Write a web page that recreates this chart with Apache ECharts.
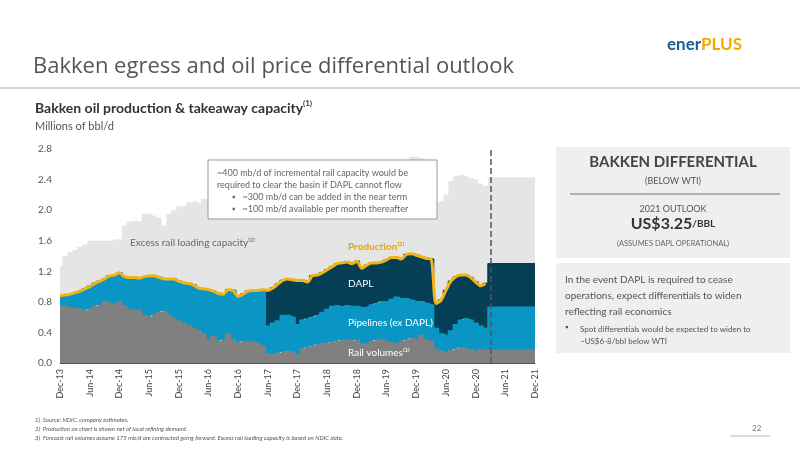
<!DOCTYPE html>
<html><head><meta charset="utf-8">
<script src="https://cdn.jsdelivr.net/npm/echarts@6/dist/echarts.min.js"></script>
<style>html,body{margin:0;background:#fff}#c{width:800px;height:450px}</style>
</head><body><div id="c"></div>
<script>
const monthNames = ['Jan','Feb','Mar','Apr','May','Jun','Jul','Aug','Sep','Oct','Nov','Dec'];
const months = [];
for (let i = 0; i < 97; i++) {
  const m = (11 + i) % 12, y = 13 + Math.floor((11 + i) / 12);
  months.push(monthNames[m] + '-' + y);
}
const lastActual = 86;

// production (historical), millions bbl/d
const production = [
  .88,.89,.90,.92,.94,.97,1.00,1.04,1.07,1.10,1.14,1.15,1.18,
  1.13,1.12,1.12,1.11,1.13,1.14,1.14,1.12,1.10,1.10,1.10,1.07,
  1.05,1.04,1.02,.98,.97,.96,.94,.91,.90,.96,.95,.87,
  .90,.94,.95,.95,.96,.95,.98,1.03,1.08,1.10,1.09,1.08,
  1.08,1.06,1.14,1.15,1.18,1.22,1.26,1.30,1.31,1.32,1.30,1.33,
  1.24,1.28,1.31,1.31,1.32,1.35,1.38,1.38,1.36,1.42,1.43,1.41,
  1.39,1.37,1.36,.78,.82,.95,1.07,1.13,1.15,1.15,1.12,1.06,1.01,1.04
];
const forecastTotal = 1.30;
const rail = [
  .75,.74,.72,.71,.70,.68,.70,.74,.76,.80,.78,.77,.80,
  .75,.70,.68,.69,.62,.60,.62,.66,.68,.62,.58,.55,
  .52,.48,.45,.42,.38,.30,.35,.28,.30,.38,.30,.26,
  .28,.28,.27,.25,.22,.12,.11,.12,.14,.15,.14,.10,
  .18,.20,.22,.24,.25,.26,.27,.28,.30,.30,.28,.30,
  .25,.24,.28,.30,.30,.28,.26,.25,.28,.30,.32,.30,
  .36,.30,.28,.18,.15,.13,.16,.18,.20,.18,.17,.15,.18,.17,
  .17,.17,.17,.17,.17,.17,.17,.17,.17,.17
];
// top of pipelines band (rail + pipelines) from DAPL start (Jun-17)
const daplStart = 42;
const pipeTop = [
  .48,.52,.55,.62,.62,.60,.50,
  .56,.58,.60,.62,.66,.70,.74,.75,.73,.75,.74,.74,
  .72,.73,.76,.78,.80,.80,.83,.86,.84,.84,.82,.80,
  .80,.78,.76,.45,.38,.36,.42,.50,.56,.58,.56,.52,.48,.45,
  .73,.73,.73,.73,.73,.73,.73,.73,.73,.73
];
// top of excess rail loading capacity band
const capacityTop = [
  1.27,1.40,1.45,1.48,1.52,1.55,1.60,1.60,1.60,1.60,1.60,1.62,1.62,
  1.80,1.85,1.86,1.85,1.95,1.96,1.93,1.90,1.80,1.95,2.00,2.05,
  2.05,2.10,2.12,2.10,2.15,2.15,2.20,2.20,2.25,2.25,2.30,2.30,
  2.30,2.32,2.35,2.35,2.36,2.38,2.40,2.40,2.42,2.42,2.44,2.45,
  2.45,2.46,2.48,2.48,2.50,2.50,2.52,2.52,2.54,2.55,2.55,2.56,
  2.56,2.58,2.58,2.60,2.60,2.62,2.62,2.64,2.65,2.66,2.70,2.70,
  2.68,2.66,2.65,2.10,2.12,2.20,2.38,2.45,2.46,2.45,2.42,2.40,2.35,2.32,
  2.43,2.43,2.43,2.43,2.43,2.43,2.43,2.43,2.43,2.43
];

const total = months.map((_, i) => i <= lastActual ? production[i] : forecastTotal);
const pTop = months.map((_, i) => i < daplStart ? total[i] : pipeTop[i - daplStart]);
const pipelines = months.map((_, i) => +(pTop[i] - rail[i]).toFixed(3));
const dapl = months.map((_, i) => +(total[i] - pTop[i]).toFixed(3));
const excess = months.map((_, i) => +(capacityTop[i] - total[i]).toFixed(3));
const prodLine = months.map((_, i) => i <= lastActual ? production[i] : null);

const FONT = 'Lato';
const chart = echarts.init(document.getElementById('c'));
// stepped stacked areas look like monthly columns; the top edge line of a lower
// band (drawn above the next band) hides the anti-aliasing seam
const band = (name, data, color, z, edge) => ({
  name, type: 'line', stack: 'a', step: 'middle', data, symbol: 'none', silent: true, z,
  lineStyle: { width: edge ? 1.5 : 0, color }, areaStyle: { color, opacity: 1 }
});
const txt = (x, y, s, style, align) => ({
  type: 'text', x, y, z: 100,
  style: Object.assign({ text: s, fontFamily: FONT, fontSize: 9, fill: '#666', align: align || 'left', verticalAlign: 'top' }, style)
});
chart.setOption({
  animation: false,
  textStyle: { fontFamily: FONT },
  grid: { left: 60, right: 265, top: 149, bottom: 87 },
  xAxis: {
    type: 'category', data: months, boundaryGap: false,
    axisLine: { lineStyle: { color: '#555' } },
    axisTick: { show: false },
    axisLabel: { interval: 5, rotate: 90, color: '#444', fontSize: 9, margin: 6 }
  },
  yAxis: {
    type: 'value', min: 0, max: 2.8, interval: 0.4,
    splitLine: { show: false }, axisLine: { show: false }, axisTick: { show: false },
    axisLabel: { color: '#555', fontSize: 10, formatter: v => v.toFixed(1) }
  },
  series: [
    band('Rail volumes', rail, '#808080', 4, true),
    band('Pipelines (ex DAPL)', pipelines, '#0a96c4', 3, true),
    band('DAPL', dapl, '#053f55', 2, true),
    Object.assign(band('Excess', excess, '#e5e5e5', 1, false), {
      markLine: { symbol: 'none', silent: true, label: { show: false },
        lineStyle: { color: '#555', type: 'dashed', width: 1.5 },
        data: [{ xAxis: lastActual + 0.5 }] }
    }),
    { name: 'Production', type: 'line', data: prodLine, smooth: 0.3, symbol: 'none',
      lineStyle: { color: '#f2b315', width: 3 }, z: 6 }
  ],
  graphic: [
    txt(33, 56, 'Bakken egress and oil price differential outlook', { fontSize: 22, fill: '#555', fontFamily: 'Open Sans' }),
    { type: 'line', shape: { x1: 0, y1: 88, x2: 800, y2: 88 }, style: { stroke: '#aaa', lineWidth: 1 } },
    txt(667, 36, '{a|ener}{b|PLUS}', { rich: { a: { fontSize: 17, fontWeight: 'bold', fill: '#1d5b94', fontFamily: FONT }, b: { fontSize: 17, fontWeight: 'bold', fill: '#f2a900', fontFamily: FONT } } }),
    txt(35, 101, 'Bakken oil production & takeaway capacity', { fontSize: 14, fontWeight: 'bold', fill: '#333' }),
    txt(303, 99, '(1)', { fontSize: 8, fontWeight: 'bold', fill: '#333' }),
    txt(35, 121, 'Millions of bbl/d', { fontSize: 11, fill: '#555' }),
    { type: 'rect', z: 99, shape: { x: 208, y: 160, width: 229, height: 59 }, style: { fill: '#fff', stroke: '#999', lineWidth: 1 } },
    txt(217, 167, '~400 mb/d of incremental rail capacity would be\nrequired to clear the basin if DAPL cannot flow', { fontSize: 9, lineHeight: 12 }),
    txt(232, 191, '▪   ~300 mb/d can be added in the near term\n▪   ~100 mb/d available per month thereafter', { fontSize: 9, lineHeight: 12 }),
    txt(130, 238, 'Excess rail loading capacity⁽³⁾', { fontSize: 10, fill: '#666' }),
    txt(348, 242, 'Production⁽²⁾', { fontSize: 10, fontWeight: 'bold', fill: '#e8a700' }),
    txt(348, 279, 'DAPL', { fontSize: 10, fill: '#fff' }),
    txt(348, 318, 'Pipelines (ex DAPL)', { fontSize: 10, fill: '#fff' }),
    txt(348, 348, 'Rail volumes⁽³⁾', { fontSize: 10, fill: '#fff' }),
    { type: 'rect', shape: { x: 556, y: 147, width: 234, height: 111 }, style: { fill: '#efefef' } },
    txt(673, 155, 'BAKKEN DIFFERENTIAL', { fontSize: 15, fontWeight: 'bold', fill: '#444' }, 'center'),
    txt(673, 177, '(BELOW WTI)', { fontSize: 9, fill: '#555' }, 'center'),
    { type: 'line', shape: { x1: 570, y1: 194, x2: 780, y2: 194 }, style: { stroke: '#777', lineWidth: 1 } },
    txt(673, 205, '2021 OUTLOOK', { fontSize: 9, fill: '#555' }, 'center'),
    txt(673, 216, '{a|US$3.25}{b|/BBL}', { rich: { a: { fontSize: 16, fontWeight: 'bold', fill: '#333', fontFamily: FONT }, b: { fontSize: 10, fontWeight: 'bold', fill: '#333', fontFamily: FONT } } }, 'center'),
    txt(673, 240, '(ASSUMES DAPL OPERATIONAL)', { fontSize: 7.5, fill: '#666' }, 'center'),
    { type: 'rect', shape: { x: 556, y: 263, width: 234, height: 90 }, style: { fill: '#efefef' } },
    txt(565, 272, 'In the event DAPL is required to cease\noperations, expect differentials to widen\nreflecting rail economics', { fontSize: 10, fill: '#555', lineHeight: 16 }),
    txt(565, 323, '▪', { fontSize: 8, fill: '#444' }),
    txt(580, 323, 'Spot differentials would be expected to widen to\n~US$6-8/bbl below WTI', { fontSize: 8, fill: '#555', lineHeight: 12 }),
    txt(35, 416, '1)  Source: NDIC, company estimates.\n2)  Production on chart is shown net of local refining demand.\n3)  Forecast rail volumes assume 175 mb/d are contracted going forward. Excess rail loading capacity is based on NDIC data.', { fontSize: 6, fontStyle: 'italic', fill: '#555', lineHeight: 9 }),
    txt(752, 424, '22', { fontSize: 8, fill: '#777' }),
    { type: 'line', shape: { x1: 730, y1: 436, x2: 770, y2: 436 }, style: { stroke: '#bbb', lineWidth: 1 } }
  ]
});
</script></body></html>
